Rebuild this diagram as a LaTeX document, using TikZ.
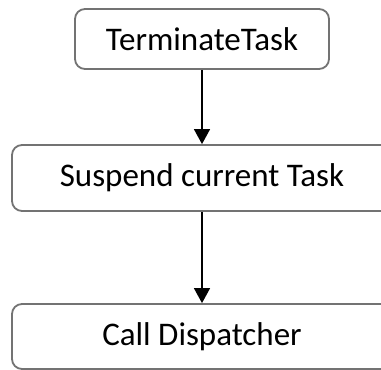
\documentclass[tikz,border=0pt]{standalone}
\usepackage{fontspec}
\setmainfont{Carlito}
\usetikzlibrary{arrows.meta}
\tikzset{
  stepbox/.style={draw=black!55, line width=1.8pt, rounded corners=10pt,
    fill=white, font=\fontsize{33}{38}\selectfont, inner sep=0pt},
  flow/.style={draw=black, line width=1.4pt,
    -{Triangle[length=15pt, width=16pt]}}
}
\begin{document}
\begin{tikzpicture}[x=1pt, y=-1pt]
  \useasboundingbox (0,0) rectangle (381,370);
  \clip (0,0) rectangle (381,370);
  \node[stepbox, minimum width=254pt, minimum height=60pt] (term) at (202,39) {TerminateTask};
  \node[stepbox, minimum width=380pt, minimum height=66pt] (susp) at (202,178) {Suspend current Task};
  \node[stepbox, minimum width=380pt, minimum height=65pt] (disp) at (202,336.5) {Call Dispatcher};
  \draw[flow] (term) -- (susp);
  \draw[flow] (susp) -- (disp);
\end{tikzpicture}
\end{document}
